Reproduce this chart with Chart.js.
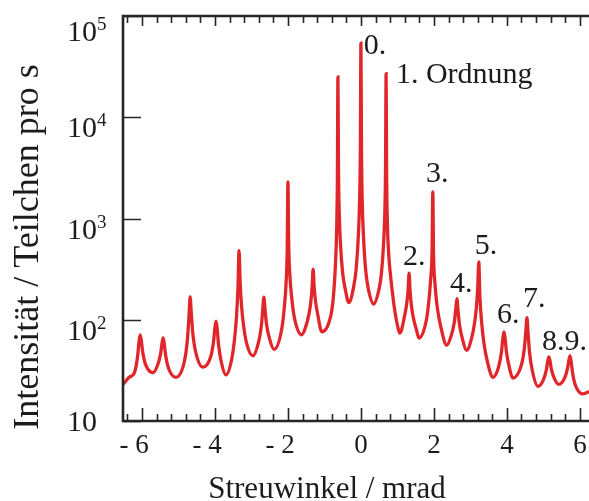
<!DOCTYPE html>
<html>
<head>
<meta charset="utf-8">
<script src="https://cdn.jsdelivr.net/npm/chart.js@4/dist/chart.umd.min.js"></script>
<style>
  html, body { margin: 0; padding: 0; background: #fff; }
</style>
</head>
<body>
<canvas id="chart" width="589" height="501"></canvas>
<script>
// Streuwinkel in mrad (one row per peak, valley at the end)
const streuwinkel = [
  -6.52, -6.35,
  -6.2, -6.12, -6.08, -6.05, -6.02, -5.98, -5.9, -5.70,
  -5.57, -5.49, -5.45, -5.42, -5.39, -5.35, -5.27, -5.07,
  -4.83, -4.75, -4.71, -4.68, -4.65, -4.61, -4.53, -4.33,
  -4.12, -4.04, -4.0, -3.97, -3.94, -3.90, -3.82, -3.70,
  -3.54, -3.46, -3.41, -3.37, -3.34, -3.31, -3.27, -3.22, -3.14, -2.96,
  -2.81, -2.73, -2.69, -2.66, -2.63, -2.59, -2.51, -2.38,
  -2.17, -2.10, -2.05, -2.02, -2.0, -1.98, -1.95, -1.90, -1.83, -1.62,
  -1.51, -1.43, -1.38, -1.34, -1.31, -1.28, -1.24, -1.19, -1.07,
  -0.83, -0.76, -0.70, -0.665, -0.645, -0.63, -0.615, -0.595, -0.56, -0.5, -0.43, -0.33,
  -0.2, -0.13, -0.07, -0.035, -0.015, 0, 0.015, 0.035, 0.07, 0.13, 0.2, 0.35,
  0.49, 0.56, 0.62, 0.655, 0.675, 0.69, 0.705, 0.725, 0.76, 0.8, 0.9, 0.98, 1.07,
  1.2, 1.25, 1.29, 1.32, 1.35, 1.39, 1.44, 1.52, 1.59,
  1.79, 1.86, 1.91, 1.95, 1.97, 1.99, 2.03, 2.09, 2.19, 2.35,
  2.48, 2.56, 2.60, 2.63, 2.66, 2.70, 2.78, 2.90,
  3.03, 3.11, 3.16, 3.20, 3.23, 3.26, 3.31, 3.37, 3.47, 3.62,
  3.77, 3.85, 3.89, 3.92, 3.95, 3.99, 4.07, 4.16,
  4.40, 4.48, 4.52, 4.55, 4.58, 4.62, 4.70, 4.85,
  5.0, 5.08, 5.12, 5.15, 5.18, 5.22, 5.30, 5.42,
  5.58, 5.66, 5.70, 5.73, 5.76, 5.80, 5.88, 6.08, 6.25
];

// Teilchen pro s at those angles
const intensitaet = [
  23, 27,
  30.5, 43.6, 61, 71, 63, 48, 36, 30,
  35.7, 46, 59, 66, 58, 44, 33, 27,
  40, 67, 112, 168, 118, 75.6, 48.3, 34,
  42.8, 60.5, 84, 97, 81.7, 56, 37.3, 28.5,
  41, 66, 107, 206, 480, 234, 135, 90, 60, 44,
  59, 86, 125, 167, 129, 92, 66, 51,
  81, 132, 234, 501, 2300, 574, 285, 170, 108, 71,
  86, 111, 143, 202, 316, 206, 148.5, 116, 76,
  108, 161, 343, 773, 2460, 25000, 3213, 1152, 562, 288, 201, 148,
  211, 319, 686, 1570, 5100, 54000, 5040, 1534, 669, 309, 204, 143,
  196, 283, 558, 1163, 3318, 27000, 2553, 900, 450, 300, 145, 96, 74,
  111, 140, 191.5, 288, 185, 132, 103, 80, 66,
  98, 151, 249, 484, 1830, 454, 226, 134, 85, 56,
  70.7, 95, 128, 162, 125, 90, 65, 50,
  65, 91, 128, 204, 372, 169, 92.6, 59, 38, 27,
  33.9, 47.7, 65.7, 76, 65.6, 47.4, 33.5, 26.6,
  36, 52.9, 77.6, 105, 74.5, 48, 31, 22,
  25.5, 31.8, 39, 43, 39.4, 32.4, 26.4, 23,
  26.5, 32.9, 40, 44, 39, 29.8, 22.4, 18.5, 19.5
];

// peak labels (anchor = left end of the text baseline)
const ordnungText = ["0.", "1. Ordnung", "2.", "3.", "4.", "5.", "6.", "7.", "8.9."];
const ordnungX = [0.08, 0.96, 1.15, 1.78, 2.44, 3.12, 3.73, 4.44, 4.96];
const ordnungY = [42000, 21800, 348, 2290, 188, 446, 93, 134, 50];

// axis ticks
const xLabelValues = [-6, -4, -2, 0, 2, 4, 6];
const xLabelTexts = ["- 6", "- 4", "- 2", "0", "2", "4", "6"];
const yTickValues = [10, 100, 1000, 10000, 100000];
const yTickExp = ["", "2", "3", "4", "5"];

const SERIF = "'Liberation Serif', 'Times New Roman', serif";
const INK = "#1c1c1c";

// minor ticks every 0.4 mrad
const xTickValues = [];
for (let i = -16; i <= 15; i++) xTickValues.push(Math.round(i * 4) / 10);

const framePlugin = {
  id: "frame",
  afterDraw(chart) {
    const { ctx, chartArea: a, scales } = chart;
    const x = scales.x, y = scales.y;
    ctx.save();
    ctx.strokeStyle = "#262626";
    ctx.fillStyle = INK;

    // tick marks (pointing inward)
    ctx.lineWidth = 1.6;
    ctx.beginPath();
    xTickValues.forEach(v => {
      const px = Math.round(x.getPixelForValue(v)) + 0.5;
      const major = xLabelValues.includes(v);
      const lb = major ? 13 : 7;
      const lt = major ? 10 : 7;
      ctx.moveTo(px, a.bottom);
      ctx.lineTo(px, a.bottom - lb);
      ctx.moveTo(px, a.top);
      ctx.lineTo(px, a.top + lt);
    });
    yTickValues.forEach(v => {
      const py = Math.round(y.getPixelForValue(v)) + 0.5;
      ctx.moveTo(a.left, py);
      ctx.lineTo(a.left + 18, py);
    });
    ctx.stroke();

    // frame: top, left, bottom
    ctx.lineWidth = 2.6;
    ctx.beginPath();
    ctx.moveTo(a.right, a.top);
    ctx.lineTo(a.left, a.top);
    ctx.lineTo(a.left, a.bottom);
    ctx.lineTo(a.right, a.bottom);
    ctx.stroke();

    // x tick labels, digit centred on the tick
    ctx.font = "27px " + SERIF;
    ctx.textBaseline = "alphabetic";
    ctx.textAlign = "right";
    const digitW = ctx.measureText("0").width;
    xLabelValues.forEach((v, i) => {
      const px = x.getPixelForValue(v);
      ctx.fillText(xLabelTexts[i], px + digitW / 2, 453);
    });

    // y tick labels 10^n
    yTickValues.forEach((v, i) => {
      const py = Math.max(y.getPixelForValue(v), a.top + 5);
      const exp = yTickExp[i];
      ctx.font = "30px " + SERIF;
      ctx.textAlign = "right";
      ctx.fillText("10", 97, py + (exp ? 20 : 10));
      if (exp) {
        ctx.font = "19px " + SERIF;
        ctx.textAlign = "left";
        ctx.fillText(exp, 97, py + 9);
      }
    });

    // axis titles
    ctx.font = "31px " + SERIF;
    ctx.textAlign = "center";
    ctx.fillText("Streuwinkel / mrad", 327, 498);

    ctx.save();
    ctx.translate(38, 247);
    ctx.rotate(-Math.PI / 2);
    ctx.font = "36px " + SERIF;
    ctx.fillText("Intensität / Teilchen pro s", 0, 0);
    ctx.restore();

    // order labels
    ctx.font = "30px " + SERIF;
    ctx.textAlign = "left";
    ordnungText.forEach((t, i) => {
      ctx.fillText(t, x.getPixelForValue(ordnungX[i]), y.getPixelForValue(ordnungY[i]));
    });

    ctx.restore();
  }
};

new Chart(document.getElementById("chart"), {
  type: "line",
  data: {
    datasets: [{
      data: streuwinkel.map((v, i) => ({ x: v, y: intensitaet[i] })),
      borderColor: "#e0262a",
      borderWidth: 3.3,
      pointRadius: 0,
      cubicInterpolationMode: "monotone",
      fill: false
    }]
  },
  options: {
    responsive: false,
    animation: false,
    layout: { padding: { left: 123, right: 0, top: 16, bottom: 80 } },
    plugins: { legend: { display: false }, tooltip: { enabled: false } },
    scales: {
      x: { type: "linear", min: -6.52, max: 6.25, display: false },
      y: { type: "logarithmic", min: 10, max: 100000, display: false }
    }
  },
  plugins: [framePlugin]
});
</script>
</body>
</html>
